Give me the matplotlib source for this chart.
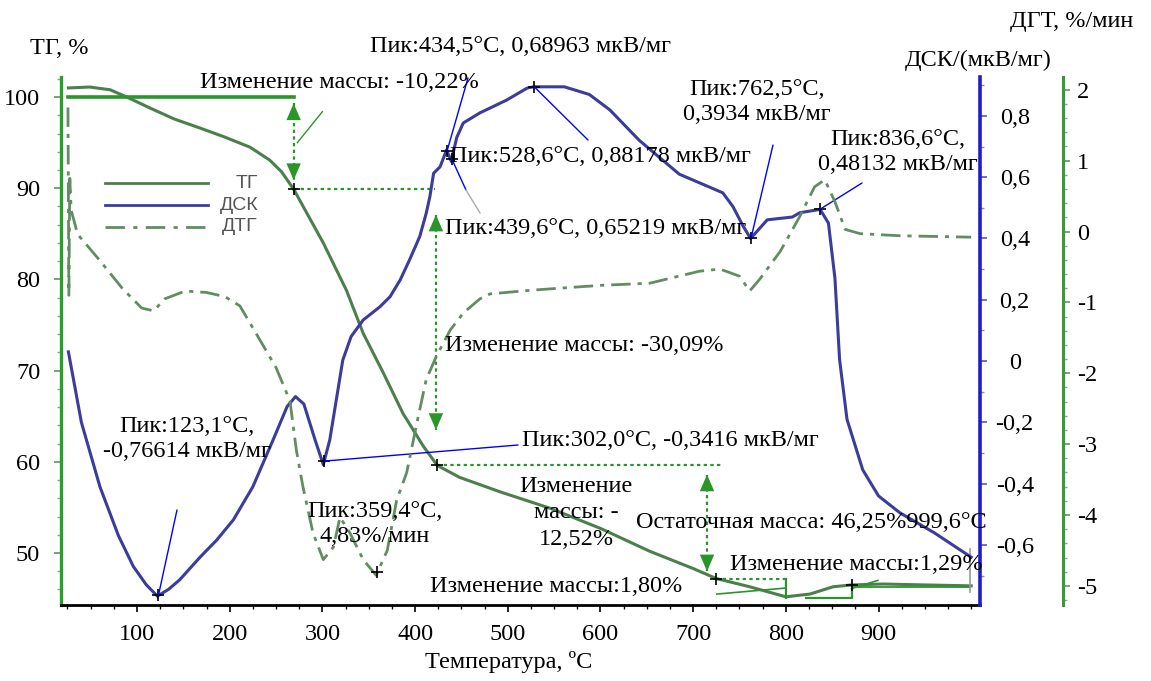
import numpy as np
import matplotlib
matplotlib.use("Agg")
from matplotlib import pyplot as plt
from matplotlib.lines import Line2D
from matplotlib.ticker import MultipleLocator, FuncFormatter

plt.rcParams["font.family"] = ["Liberation Serif", "DejaVu Serif"]

W, H = 1151, 681

# ТГ, %
tg_temp = [26, 49, 71, 89, 114, 140, 168, 195, 222, 243, 256, 269, 282, 301, 326, 344, 366,
           387, 409, 424, 448, 492, 546, 600, 653, 700, 725, 761, 800, 826, 851, 871, 905,
           950, 1000]
tg_mass = [101.0, 101.1, 100.8, 100.0, 98.8, 97.6, 96.6, 95.6, 94.5, 93.1, 91.8, 89.9, 87.5,
           84.0, 78.8, 74.1, 69.7, 65.3, 61.7, 59.6, 58.3, 56.7, 54.9, 52.7, 50.2, 48.3, 47.2,
           46.3, 45.2, 45.5, 46.3, 46.5, 46.6, 46.5, 46.4]

# ДСК, мкВ/мг
dsc_temp = [26, 40, 60, 80, 96, 110, 122, 134, 146, 168, 186, 204, 225, 247, 262, 271, 280,
            292, 301, 308, 315, 322, 331, 344, 362, 373, 384, 394, 405, 412, 416, 420, 427,
            434, 439, 445, 452, 470, 499, 521, 528, 561, 588, 610, 642, 685, 732, 743, 754,
            762, 780, 807, 815, 837, 846, 853, 858, 866, 883, 900, 923, 960, 1000]
dsc_val = [0.03, -0.2, -0.41, -0.57, -0.67, -0.73, -0.767, -0.745, -0.714, -0.64, -0.584,
           -0.518, -0.41, -0.256, -0.148, -0.116, -0.14, -0.256, -0.338, -0.257, -0.127,
           0.003, 0.08, 0.134, 0.177, 0.21, 0.265, 0.33, 0.406, 0.482, 0.537, 0.613, 0.634,
           0.689, 0.652, 0.73, 0.777, 0.81, 0.852, 0.891, 0.895, 0.895, 0.87, 0.82, 0.72,
           0.61, 0.549, 0.504, 0.44, 0.40, 0.461, 0.47, 0.484, 0.495, 0.45, 0.27, 0.005,
           -0.19, -0.355, -0.44, -0.495, -0.56, -0.64]

# ДТГ, %/мин
dtg_temp = [25.5, 26.5, 27.5, 29, 36, 58, 84, 105, 118, 130, 152, 175, 195, 211, 229, 250,
            265, 272, 279, 290, 301, 312, 319, 330, 344, 358, 370, 380, 391, 402, 412, 423,
            438, 452, 470, 481, 524, 556, 600, 653, 707, 729, 750, 761, 772, 794, 815, 831,
            842, 853, 864, 880, 923, 1000]
dtg_val = [1.75, -0.9, 0.75, 0.3, -0.04, -0.38, -0.8, -1.08, -1.12, -0.95, -0.84, -0.86,
           -0.92, -1.05, -1.45, -1.92, -2.39, -3.09, -3.6, -4.26, -4.63, -4.45, -4.03, -4.26,
           -4.63, -4.85, -4.5, -3.8, -3.4, -2.7, -2.09, -1.76, -1.39, -1.15, -0.95, -0.88,
           -0.83, -0.8, -0.76, -0.73, -0.56, -0.53, -0.63, -0.84, -0.67, -0.28, 0.21, 0.63,
           0.73, 0.42, 0.03, -0.03, -0.06, -0.08]

# peaks of ДСК
dsc_peak_temp = [123.1, 302.0, 434.5, 439.6, 528.6, 762.5, 836.6]
dsc_peak_text = ["Пик:123,1°C,\n-0,76614 мкВ/мг", "Пик:302,0°C, -0,3416 мкВ/мг",
                 "Пик:434,5°C, 0,68963 мкВ/мг", "Пик:439,6°C, 0,65219 мкВ/мг",
                 "Пик:528,6°C, 0,88178 мкВ/мг", "Пик:762,5°C,\n0,3934 мкВ/мг",
                 "Пик:836,6°C,\n0,48132 мкВ/мг"]
dtg_peak_temp = 359.4
dtg_peak_text = "Пик:359,4°C,\n4,83%/мин"

# mass steps of ТГ
step_temp = [269, 424, 725, 871]
step_text = ["Изменение массы: -10,22%", "Изменение массы: -30,09%",
             "Изменение\nмассы: -\n12,52%", "Остаточная масса: 46,25%999,6°C",
             "Изменение массы:1,80%", "Изменение массы:1,29%"]

GREEN = "#2a962a"
TG_C = "#4d7f4d"
DSC_C = "#3c3c9c"
DTG_C = "#628d62"
FS = 17.5


def fig_xy(x, y):
    return x / W, 1 - y / H


def comma1(v, pos):
    if abs(v) < 1e-9:
        return "0"
    return f"{v:.1f}".replace(".", ",")


def int0(v, pos):
    return f"{int(round(v))}"


fig = plt.figure(figsize=(W / 100, H / 100), dpi=100)
ax = fig.add_axes([61 / W, 1 - 605 / H, (980 - 61) / W, (605 - 77) / H])
ax2 = ax.twinx()
ax3 = ax.twinx()

ax.set_xlim(18, 1009.5)
ax.set_ylim(44.3, 102.2)
ax2.set_ylim(-0.796, 0.927)
ax3.set_ylim(-5.27, 2.18)

# curves
ax.plot(tg_temp, tg_mass, color=TG_C, lw=2.2)
ax2.plot(dsc_temp, dsc_val, color=DSC_C, lw=2.2)
ax3.plot(dtg_temp, dtg_val, color=DTG_C, lw=2, dashes=[7, 2.5, 1.5, 2.5])

# spines
for a in (ax, ax2, ax3):
    a.spines["top"].set_visible(False)
ax.spines["right"].set_visible(False)
ax.spines["left"].set_color("#2aa02a")
ax.spines["left"].set_linewidth(2.4)
ax.spines["bottom"].set_linewidth(2)
ax2.spines["left"].set_visible(False)
ax2.spines["bottom"].set_visible(False)
ax2.spines["right"].set_color("#1e1ed0")
ax2.spines["right"].set_linewidth(2.6)
ax3.spines["left"].set_visible(False)
ax3.spines["bottom"].set_visible(False)
ax3.spines["right"].set_position(("axes", (1063 - 61) / (980 - 61)))
ax3.spines["right"].set_color("#3a9a3a")
ax3.spines["right"].set_linewidth(2.2)

# ticks
ax.xaxis.set_minor_locator(MultipleLocator(25))
ax.set_xticks(range(100, 1000, 100))
ax.yaxis.set_minor_locator(MultipleLocator(2))
ax.set_yticks([50, 60, 70, 80, 90, 100])
ax.tick_params(axis="x", which="major", length=5, width=1.2, pad=9, labelsize=FS)
ax.tick_params(axis="x", which="minor", length=3, width=1)
ax.tick_params(axis="y", which="major", length=5, width=1.2, color="#6a8f6a", pad=10,
               labelsize=FS)
ax.tick_params(axis="y", which="minor", length=3, width=1, color="#8aa88a")

ax2.yaxis.set_minor_locator(MultipleLocator(0.1))
ax2.set_yticks([-0.6, -0.4, -0.2, 0, 0.2, 0.4, 0.6, 0.8])
ax2.yaxis.set_major_formatter(FuncFormatter(comma1))
ax2.tick_params(axis="y", which="major", length=5, width=1.2, color="#5a5ab0", pad=20,
                labelsize=FS)
ax2.tick_params(axis="y", which="minor", length=3, width=1, color="#8a8ac0")
for lab in ax2.get_yticklabels():
    lab.set_horizontalalignment("center")

ax3.yaxis.set_minor_locator(MultipleLocator(0.2))
ax3.set_yticks([-5, -4, -3, -2, -1, 0, 1, 2])
ax3.yaxis.set_major_formatter(FuncFormatter(int0))
ax3.tick_params(axis="y", which="major", length=5, width=1.2, color="#6a8f6a", pad=5,
                labelsize=FS)
ax3.tick_params(axis="y", which="minor", length=3, width=1, color="#8aa88a")

# axis titles
fig.text(*fig_xy(30, 48), "ТГ, %", fontsize=FS, va="center")
fig.text(*fig_xy(1010, 22), "ДГТ, %/мин", fontsize=FS, va="center")
fig.text(*fig_xy(905, 60), "ДСК/(мкВ/мг)", fontsize=FS, va="center")
fig.text(*fig_xy(425, 662), "Температура, ºC", fontsize=FS, va="center")

# legend drawn by hand
leg_items = [("ТГ", TG_C, "-"), ("ДСК", DSC_C, "-"), ("ДТГ", DTG_C, "-.")]
for i, (name, col, ls) in enumerate(leg_items):
    y = 183 + 22 * i
    x0, y0 = fig_xy(105, y)
    x1, _ = fig_xy(208, y)
    ln = Line2D([x0, x1], [y0, y0], transform=fig.transFigure, color=col, lw=2)
    if ls == "-.":
        ln.set_dashes([7, 3, 1.5, 3])
    fig.add_artist(ln)
    fig.text(*fig_xy(258, y), name, fontsize=14, family="Liberation Sans",
             color="#555555", ha="right", va="center")

# --- ТГ step annotations ---
tg_at = lambda t: float(np.interp(t, tg_temp, tg_mass))
step_levels = [tg_at(t) for t in step_temp]
DOTS = (0, (1.5, 1.5))


def double_arrow(t, y_top, y_bot):
    ax.plot([t, t], [y_top, y_bot], color=GREEN, lw=1.6, ls=DOTS)
    ax.annotate("", xy=(t, y_top), xytext=(t, y_bot),
                arrowprops=dict(arrowstyle="<|-|>,head_length=0.6,head_width=0.26",
                                color=GREEN, lw=0, mutation_scale=20,
                                shrinkA=0, shrinkB=0))


ax.plot([25.5, step_temp[0]], [100, 100], color=GREEN, lw=2.6)
double_arrow(step_temp[0], 99.3, 90.9)
ax.plot([273, 300], [95.0, 98.4], color=GREEN, lw=1)
ax.plot([step_temp[0], 421.5], [step_levels[0]] * 2, color=GREEN, lw=1.6, ls=DOTS)

double_arrow(step_temp[1] - 1.5, 87.1, 63.5)
ax.plot([step_temp[1], 731], [step_levels[1]] * 2, color=GREEN, lw=1.6, ls=DOTS)

double_arrow(step_temp[2] - 10, 58.6, 48.0)
ax.plot([step_temp[2], 800], [step_levels[2]] * 2, color=GREEN, lw=1.6, ls=DOTS)
ax.plot([800, 800], [step_levels[2], 45.07], color=GREEN, lw=1.6)
ax.plot([725.7, 800], [45.5, 46.16], color=GREEN, lw=1.2)
ax.plot([821.7, step_temp[3], step_temp[3]], [45.1, 45.1, step_levels[3]], color=GREEN, lw=1.6)
ax.plot([step_temp[3], 899.3], [46.1, 47.0], color=GREEN, lw=1.2)
ax.plot([step_temp[3], 998.6], [46.3, 46.3], color=GREEN, lw=1.3)
ax.plot([998.6, 998.6], [45.7, 50.4], color="#999999", lw=1.2)

ax.plot(step_temp, step_levels, "+", color="black", ms=9, mew=1.2)

fig.text(*fig_xy(200, 82), step_text[0], fontsize=FS, va="center")
fig.text(*fig_xy(445, 345), step_text[1], fontsize=FS, va="center")
fig.text(*fig_xy(576, 513), step_text[2], fontsize=FS, va="center", ha="center",
         linespacing=1.32)
fig.text(*fig_xy(636, 523), step_text[3], fontsize=FS, va="center")
fig.text(*fig_xy(430, 587), step_text[4], fontsize=FS, va="center")
fig.text(*fig_xy(730, 565), step_text[5], fontsize=FS, va="center")

# --- ДСК peaks ---
peak_vals = np.interp(dsc_peak_temp, dsc_temp, dsc_val)
ax2.plot(dsc_peak_temp, peak_vals, "+", color="black", ms=9, mew=1.2)
leader_end = [(177, 510), (518, 445), (468, 78), (466, 190), (588, 140), (773, 145), (862, 183)]
for t, v, (ex, ey) in zip(dsc_peak_temp, peak_vals, leader_end):
    ax2.annotate("", xy=(t, v), xytext=(ex, H - ey), textcoords="figure pixels",
                 arrowprops=dict(arrowstyle="-", color="blue", lw=1, shrinkA=0, shrinkB=0))
fig.add_artist(Line2D([466 / W, 480 / W], [1 - 190 / H, 1 - 213 / H],
                      transform=fig.transFigure, color="#aaaaaa", lw=1))

peak_text_pos = [(187, 439, "center"), (522, 441, "left"), (370, 47, "left"),
                 (445, 229, "left"), (450, 156, "left"), (757, 102, "center"),
                 (898, 152, "center")]
for txt, (tx, ty, ha) in zip(dsc_peak_text, peak_text_pos):
    fig.text(*fig_xy(tx, ty), txt, fontsize=FS, va="center", ha=ha, linespacing=1.3)

# --- ДТГ peak ---
ax3.plot([dtg_peak_temp], [np.interp(dtg_peak_temp, dtg_temp, dtg_val)], "+",
         color="black", ms=9, mew=1.2)
fig.text(*fig_xy(375, 524), dtg_peak_text, fontsize=FS, va="center", ha="center",
         linespacing=1.3)

fig.savefig("out.png", dpi=100)
